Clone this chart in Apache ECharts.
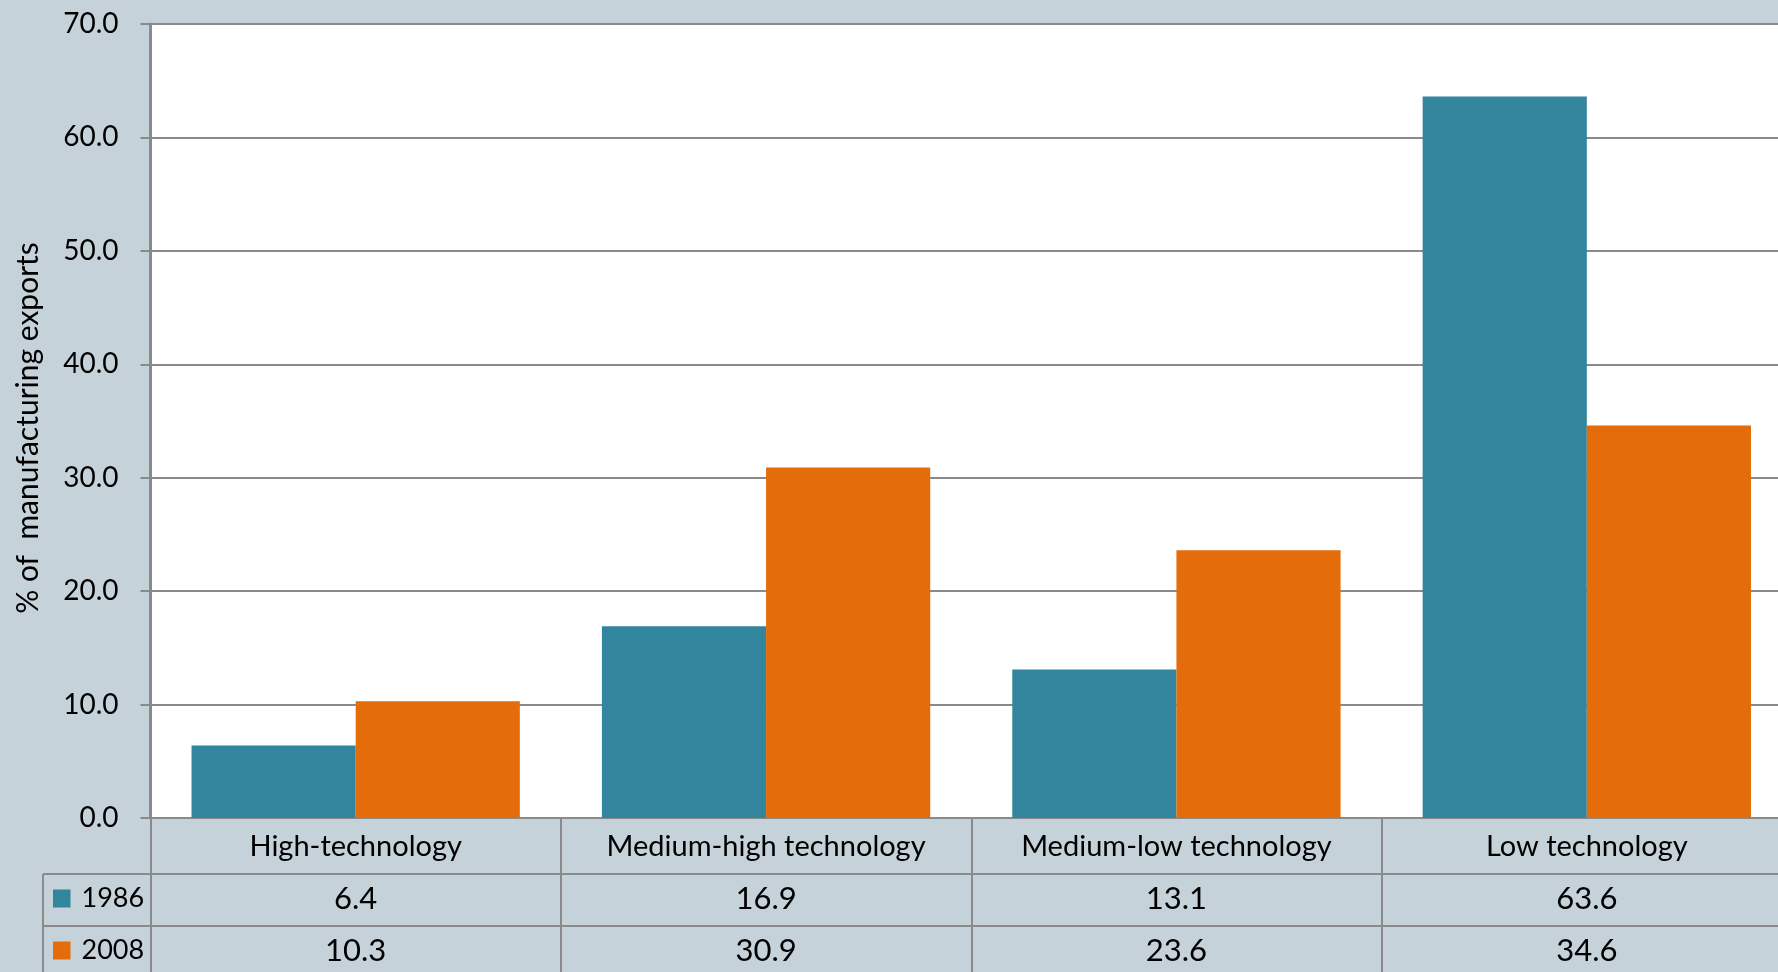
<!DOCTYPE html>
<html>
<head>
<meta charset="utf-8">
<script src="https://cdn.jsdelivr.net/npm/echarts@6/dist/echarts.min.js"></script>
<style>
html,body{margin:0;padding:0;background:#c6d2d9;overflow:hidden;width:1778px;height:972px;}
#c{width:1792px;height:972px;}
</style>
</head>
<body>
<div id="c"></div>
<script>
const categories = ['High-technology', 'Medium-high technology', 'Medium-low technology', 'Low technology'];
const seriesNames = ['1986', '2008'];
const values1986 = [6.4, 16.9, 13.1, 63.6];
const values2008 = [10.3, 30.9, 23.6, 34.6];
const yTicks = [0, 10, 20, 30, 40, 50, 60, 70];
const yTitle = '% of  manufacturing exports';

const FONT = 'Lato';
const colors = ['#31859c', '#e46c0a'];
const lineGray = '#8a8a8a';

const chart = echarts.init(document.getElementById('c'));
const allVals = [values1986, values2008];

const option = {
  backgroundColor: '#c6d2d9',
  animation: false,
  textStyle: { fontFamily: FONT, color: '#000' },
  grid: {
    left: 150.5, top: 24, right: 0, bottom: 154,
    show: true, backgroundColor: '#ffffff', borderWidth: 0, containLabel: false
  },
  legend: seriesNames.map((n, i) => ({
    orient: 'vertical',
    left: 53, top: 885 + i * 52,
    itemWidth: 17.5, itemHeight: 18,
    icon: 'rect',
    padding: 0,
    textStyle: { fontFamily: FONT, fontSize: 27, color: '#000', padding: [0, 0, 0, 6] },
    data: [n]
  })),
  xAxis: {
    type: 'category',
    data: categories,
    axisLine: { show: true, lineStyle: { color: lineGray, width: 2 } },
    axisTick: { show: true, inside: false, length: 160, alignWithLabel: false, lineStyle: { color: lineGray, width: 2 } },
    axisLabel: {
      margin: 3,
      interval: 0,
      formatter: function (v) {
        const idx = categories.indexOf(v);
        return '{c|' + v + '}\n' + allVals.map(a => '{v|' + a[idx].toFixed(1) + '}').join('\n');
      },
      rich: {
        c: { fontFamily: FONT, fontSize: 29, color: '#000', lineHeight: 52 },
        v: { fontFamily: FONT, fontSize: 31, color: '#000', lineHeight: 52 }
      },
      fontFamily: FONT, fontSize: 29, color: '#000'
    }
  },
  yAxis: {
    type: 'value',
    min: yTicks[0], max: yTicks[yTicks.length - 1], interval: 10,
    name: yTitle,
    nameLocation: 'middle',
    nameGap: 107,
    nameTextStyle: { fontFamily: FONT, fontSize: 30, color: '#000', padding: [0, 14, 0, 0] },
    axisLine: { show: true, lineStyle: { color: lineGray, width: 3 } },
    axisTick: { show: true, length: 10, lineStyle: { color: lineGray, width: 2 } },
    axisLabel: {
      margin: 32,
      formatter: v => v.toFixed(1),
      fontFamily: FONT, fontSize: 28, color: '#000'
    },
    splitLine: { show: true, lineStyle: { color: lineGray, width: 2 } }
  },
  series: [
    { name: seriesNames[0], type: 'bar', data: values1986, itemStyle: { color: colors[0] }, barGap: '0%', barCategoryGap: '20%' },
    { name: seriesNames[1], type: 'bar', data: values2008, itemStyle: { color: colors[1] }, barGap: '0%', barCategoryGap: '20%' }
  ],
  graphic: [
    { type: 'line', shape: { x1: 43, y1: 874, x2: 1792, y2: 874 }, style: { stroke: lineGray, lineWidth: 2 }, z: 10 },
    { type: 'line', shape: { x1: 43, y1: 926, x2: 1792, y2: 926 }, style: { stroke: lineGray, lineWidth: 2 }, z: 10 },
    { type: 'line', shape: { x1: 43, y1: 874, x2: 43, y2: 972 }, style: { stroke: lineGray, lineWidth: 2 }, z: 10 }
  ]
};
chart.setOption(option);
</script>
</body>
</html>
